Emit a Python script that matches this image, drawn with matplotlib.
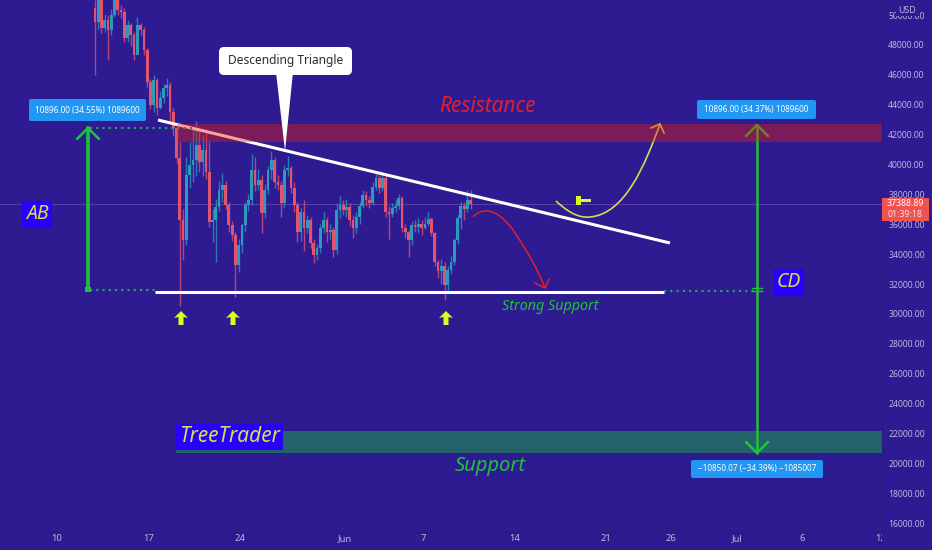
"""Descending triangle chart, TradingView style, saved to out.png."""
import matplotlib

matplotlib.use("Agg")
import matplotlib.pyplot as plt
from matplotlib.patches import FancyBboxPatch, PathPatch, Polygon, Rectangle
from matplotlib.path import Path
from matplotlib.transforms import Bbox

# 6h candles, days counted from 10 May
first_day = 2.9
candle_step = 0.25
first_open = 50500
closes = [
    49540, 51680, 49140, 49670, 49000, 50010, 51350, 50340, 50210, 48470, 49340, 48670,
    47330, 49340, 49000, 47660, 45520, 43980, 45660, 43780, 44450, 45120, 45320, 43510,
    42440, 40440, 36280, 34950, 39300, 39970, 40300, 41300, 40170, 40970, 39500, 36150,
    36280, 37150, 38290, 38630, 37290, 35950, 35280, 33270, 34610, 35950, 37290, 37620,
    39630, 38630, 38960, 36750, 38290, 39630, 40300, 38830, 38630, 37420, 39630, 39770,
    38430, 37290, 35480, 36820, 35750, 36280, 34750, 33940, 34410, 35750, 36280, 35480,
    35620, 34280, 36950, 37290, 36950, 37150, 36280, 35750, 36490, 37220, 37960, 37620,
    37420, 38500, 39100, 38430, 39100, 36820, 36690, 37090, 37220, 37760, 35750, 35480,
    34950, 35950, 35820, 36020, 35750, 36020, 36350, 35420, 33470, 32870, 33210, 31940,
    32940, 33470, 34950, 36420, 37220, 37020, 37620, 37389,
]
highs = [
    51000, 52000, 51900, 50100, 50000, 50400, 51600, 51700, 50700, 50500, 49700, 49500,
    48900, 49900, 49500, 49200, 47800, 45700, 46000, 45800, 44900, 45400, 45800, 45500,
    43800, 42700, 41500, 37000, 40500, 41500, 42500, 42900, 42500, 42000, 42400, 41600,
    37000, 37700, 38900, 39400, 38900, 37500, 36200, 35500, 35000, 36100, 37500, 38000,
    40700, 40500, 39700, 39300, 38700, 39900, 40900, 40500, 39300, 38900, 40000, 40600,
    39900, 38800, 37500, 37100, 37600, 36600, 36500, 35000, 34700, 36000, 36800, 36500,
    36000, 35800, 37400, 37900, 37600, 37700, 37400, 36600, 36800, 37500, 38300, 38200,
    37900, 38800, 39500, 39300, 39500, 39300, 37200, 37400, 37600, 38000, 37900, 36000,
    35600, 36200, 36300, 36400, 36300, 36500, 36800, 36500, 35500, 33600, 33700, 33500,
    33200, 33900, 35100, 36600, 37500, 37500, 38300, 38300,
]
lows = [
    46000, 49000, 48800, 48900, 47000, 48700, 49900, 50000, 49800, 48200, 48200, 47900,
    47000, 48000, 48700, 47300, 45200, 43700, 43500, 43300, 43700, 44100, 44600, 42800,
    41900, 40100, 30500, 33600, 34600, 38400, 38800, 39200, 39500, 39200, 39000, 35800,
    34800, 33500, 36900, 37500, 37000, 35500, 34900, 31100, 32800, 34100, 35500, 36900,
    37300, 38200, 38300, 35400, 36400, 38000, 39000, 38400, 38300, 36500, 37100, 39200,
    38100, 36800, 34800, 34900, 34200, 35400, 34400, 33400, 33600, 34100, 35400, 34800,
    35000, 33800, 34000, 36400, 36600, 36500, 35900, 35100, 35400, 36000, 37100, 37200,
    37100, 37300, 38300, 38100, 38200, 36500, 35000, 36500, 36800, 37000, 35500, 35100,
    33800, 34600, 35500, 35400, 35300, 35700, 35900, 35200, 33200, 32400, 32000, 30900,
    31400, 32700, 33300, 34700, 35700, 36300, 36800, 37000,
]
last_price = 37388.89

price_ticks = list(range(16000, 50001, 2000))
day_ticks = [0, 7, 14, 22, 28, 35, 42, 47, 52, 57, 63]
day_labels = ["10", "17", "24", "Jun", "7", "14", "21", "26", "Jul", "6", "12"]

BG = "#2e1b91"
AXIS_TXT = "#bdb4dc"
UP = "#2a9bbd"
DOWN = "#e2546e"
WHITE = "#ffffff"
GREEN = "#1fc23a"
DOT = "#1fae5a"
LABEL_BG = "#2196f3"
BOX_BLUE = "#2800ff"
BOX_TXT = "#d6e04e"
YELLOW = "#d8ff1e"
CURVE = "#d8dc4a"
RED = "#e0202c"

plt.rcParams["font.family"] = ["Noto Sans", "DejaVu Sans"]

fig = plt.figure(figsize=(9.32, 5.5), dpi=100, facecolor=BG)
ax = fig.add_axes([0, 18 / 550, 882 / 932, 532 / 550], facecolor=BG)
ax.set_xlim(-4.36, 63.12)
ax.set_ylim(15400, 51012)
for name, spine in ax.spines.items():
    spine.set_visible(name in ("right", "bottom"))
    spine.set_color("#2a1884")
    spine.set_linewidth(1)

ax.yaxis.tick_right()
ax.set_yticks(price_ticks)
ax.set_yticklabels([f"{p:.2f}" for p in price_ticks])
ax.set_xticks(day_ticks)
ax.set_xticklabels(day_labels)
ax.tick_params(axis="both", length=0, labelsize=6.8, labelcolor=AXIS_TXT)
ax.tick_params(axis="y", pad=4.5, labelsize=6.2)
ax.tick_params(axis="x", pad=1.5)
for lab in ax.get_xticklabels():
    lab.set_clip_box(Bbox([[0, 0], [882, 550]]))
    lab.set_clip_on(True)

ax.axhline(last_price, color="#5f3fa8", lw=0.7, zorder=1)

# candles
opens = [first_open] + closes[:-1]
for i, (o, c, h, l) in enumerate(zip(opens, closes, highs, lows)):
    day = first_day + i * candle_step
    col = UP if c >= o else DOWN
    ax.vlines(day, l, h, color=col, lw=1.0, alpha=0.75, zorder=2)
    ax.bar(day, abs(c - o), bottom=min(o, c), width=0.21, color=col, lw=0, zorder=3)

# everything drawn by hand on the chart goes on a pixel overlay
ov = fig.add_axes([0, 0, 1, 1], facecolor="none")
ov.set_xlim(0, 932)
ov.set_ylim(550, 0)
ov.axis("off")


def chevron(x, y, direction, size=11, color=GREEN, lw=1.8):
    ov.plot([x - size, x, x + size], [y - direction * size, y, y - direction * size],
            color=color, lw=lw, solid_capstyle="round", zorder=6)


def tag(x0, y0, x1, y1, text):
    ov.add_patch(FancyBboxPatch((x0 + 2, y0 + 2), x1 - x0 - 4, y1 - y0 - 4,
                                boxstyle="round,pad=2", fc=LABEL_BG, ec="none", zorder=12))
    ov.text((x0 + x1) / 2, (y0 + y1) / 2, text, color=WHITE, fontsize=5.9,
            ha="center", va="center", zorder=13)


def boxed(x0, y0, x1, y1, text, size):
    ov.add_patch(Rectangle((x0, y0), x1 - x0, y1 - y0, fc=BOX_BLUE, ec="none", zorder=12))
    ov.text((x0 + x1) / 2, (y0 + y1) / 2 - 0.5, text, color=BOX_TXT, fontsize=size,
            style="italic", ha="center", va="center", zorder=13)


# trend lines
ov.plot([158, 670], [120, 243], color=WHITE, lw=2.2, solid_capstyle="butt", zorder=5)
ov.plot([155, 664], [291.5, 291.5], color=WHITE, lw=2.2, solid_capstyle="butt", zorder=5)

# dotted guides
dots = dict(color=DOT, lw=1.5, ls=(0, (1, 2)), zorder=5)
ov.plot([90, 195], [128, 128], **dots)
ov.plot([90, 155], [290, 290], **dots)
ov.plot([664, 755], [291, 291], **dots)

# AB / CD measure arrows
ov.plot([88, 88], [128, 290], color=GREEN, lw=2.6, zorder=6)
chevron(88, 128, -1)
ov.add_patch(Rectangle((85, 287), 6, 5, fc=GREEN, ec="none", zorder=6))
ov.plot([757, 757], [125, 453], color=GREEN, lw=1.8, zorder=6)
chevron(757, 125, -1)
chevron(757, 453, 1)
ov.plot([752, 762], [288, 288], color=GREEN, lw=1, zorder=6)
ov.plot([752, 762], [291, 291], color=GREEN, lw=1, zorder=6)

# forecast curves
red_path = Path([(473, 217), (480, 209), (495, 205), (513, 230), (528, 252), (538, 270), (545, 288)],
                [Path.MOVETO] + [Path.CURVE4] * 6)
ov.add_patch(PathPatch(red_path, fc="none", ec=RED, lw=1.1, zorder=6))
ov.plot([535, 545, 549], [283, 288, 279], color=RED, lw=1.1, zorder=6)

yellow_path = Path([(556, 201), (570, 214), (580, 218), (590, 217), (625, 214), (645, 165), (660, 124)],
                   [Path.MOVETO] + [Path.CURVE4] * 6)
ov.add_patch(PathPatch(yellow_path, fc="none", ec=CURVE, lw=1.2, zorder=6))
ov.plot([651, 660, 664], [128, 124, 133], color=CURVE, lw=1.2, zorder=6)

# bands sit over the drawings, which tint through them
ov.add_patch(Rectangle((177, 123.5), 705, 18.5, fc=(243 / 255, 27 / 255, 8 / 255), alpha=0.4, ec="none", zorder=7))
ov.add_patch(Rectangle((176, 430.5), 706, 22.5, fc=(21 / 255, 205 / 255, 52 / 255), alpha=0.4, ec="none", zorder=7))

# gavel icon
ov.add_patch(Rectangle((576, 196), 5, 9, fc=YELLOW, ec="none", zorder=8))
ov.add_patch(Rectangle((581, 199), 10, 3, fc=YELLOW, ec="none", zorder=8))

# support arrows
for x in [181, 233, 446]:
    ov.add_patch(Polygon([(x, 311), (x + 7, 318), (x + 2.5, 317), (x + 2.5, 325), (x - 2.5, 325),
                          (x - 2.5, 317), (x - 7, 318)], fc=YELLOW, ec="none", zorder=8))

# callout
ov.add_patch(Polygon([(276, 72), (293, 72), (285, 151)], fc=WHITE, ec="none", zorder=10))
ov.add_patch(FancyBboxPatch((224, 52), 123, 18, boxstyle="round,pad=5", fc=WHITE, ec="none", zorder=10))
ov.text(285.5, 60.5, "Descending Triangle", color="#2a2a34", fontsize=8.6,
        ha="center", va="center", zorder=11)

# value tags
tag(29, 99, 146, 121, "10896.00 (34.55%) 1089600")
tag(697, 100, 816, 119, "10896.00 (34.37%) 1089600")
tag(691, 460, 823, 478, "\u221210850.07 (\u221234.39%) \u22121085007")

# names
boxed(22, 201, 52, 228, "AB", 14)
boxed(773, 269, 804, 296, "CD", 14)
boxed(176, 423, 283, 450, "TreeTrader", 15)
ov.text(487, 107, "Resistance", color=RED, fontsize=15, style="italic", ha="center", va="center", zorder=9)
ov.text(490, 466, "Support", color=GREEN, fontsize=14.5, style="italic", ha="center", va="center", zorder=9)
ov.text(550, 306, "Strong Support", color=GREEN, fontsize=10.3, style="italic", ha="center", va="center", zorder=9)

# price scale extras
ov.add_patch(Rectangle((882, 198), 47, 23, fc="#ef5350", ec="none", zorder=12))
ov.text(905.5, 204, f"{last_price:.2f}", color=WHITE, fontsize=6.3, fontweight="bold",
        ha="center", va="center", zorder=13)
ov.text(905.5, 214.5, "01:39:18", color="#ffd9d6", fontsize=6.3, ha="center", va="center", zorder=13)
ov.add_patch(Rectangle((896, 5), 24, 11, fc=BG, ec="none", zorder=12))
ov.text(907, 10.5, "USD", color=AXIS_TXT, fontsize=6.4, ha="center", va="center", zorder=13)

fig.savefig("out.png", dpi=100, facecolor=BG)
